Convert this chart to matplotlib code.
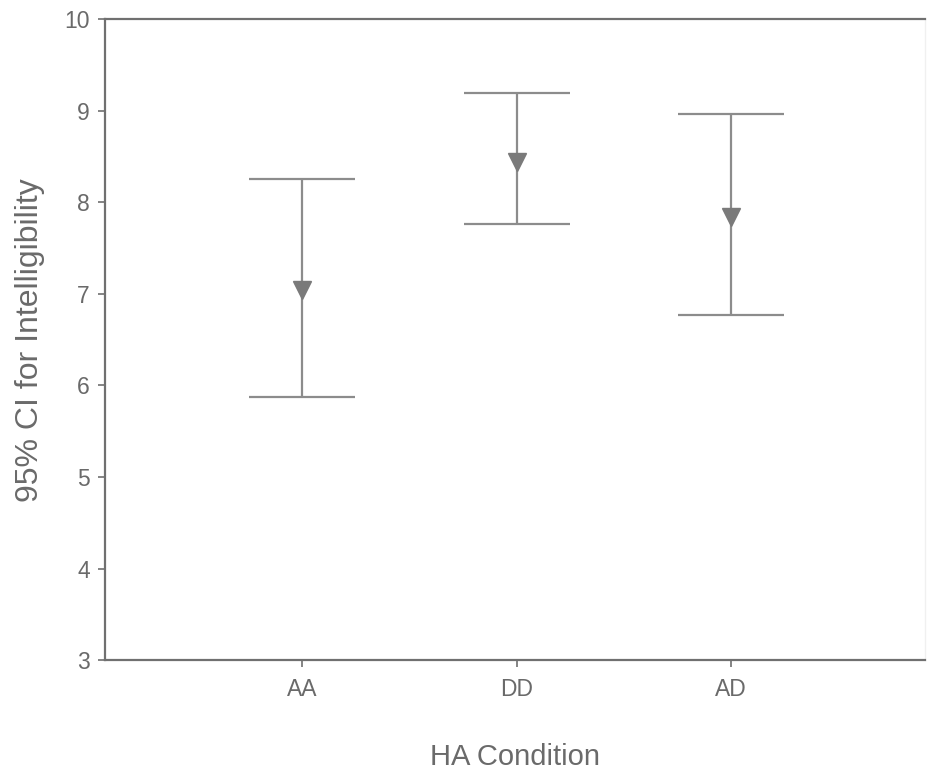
import matplotlib
matplotlib.use("Agg")
import matplotlib.pyplot as plt

# Values
conditions = ["AA", "DD", "AD"]
means = [7.04, 8.44, 7.84]
upper = [8.26, 9.20, 8.96]
lower = [5.87, 7.76, 6.77]

plt.rcParams["font.family"] = ["Liberation Sans", "DejaVu Sans"]

fig = plt.figure(figsize=(9.29, 7.72), dpi=100)
ax = fig.add_axes([0.113, 0.145, 0.883, 0.830])

line_col = "#8c8c8c"
text_col = "#6a6a6a"
x = list(range(1, len(conditions) + 1))

for xi, m, hi, lo in zip(x, means, upper, lower):
    ax.errorbar(xi, m, yerr=[[m - lo], [hi - m]], fmt="none",
                ecolor=line_col, elinewidth=1.6, capsize=38, capthick=1.6)
ax.plot(x, means, linestyle="none", marker="v", markersize=13,
        color="#7a7a7a")

ax.set_xlim(0.082, 3.904)
ax.set_ylim(3, 10)
ax.set_yticks(range(3, 11))
ax.set_xticks(x)
ax.set_xticklabels(conditions)

for side in ["left", "bottom", "top"]:
    ax.spines[side].set_color("#707070")
    ax.spines[side].set_linewidth(1.6)
ax.spines["right"].set_color("#f0f0f0")
ax.spines["right"].set_linewidth(1.0)

ax.tick_params(axis="both", colors="#707070", labelcolor=text_col,
               labelsize=16.5, length=5, width=1.2, direction="out")
ax.tick_params(axis="y", pad=6)
ax.tick_params(axis="x", pad=8)

ax.set_xlabel("HA Condition", fontsize=21, color=text_col, labelpad=30)
ax.set_ylabel("95% CI for Intelligibility", fontsize=23, color=text_col,
              labelpad=14)

fig.savefig("out.png", dpi=100)
